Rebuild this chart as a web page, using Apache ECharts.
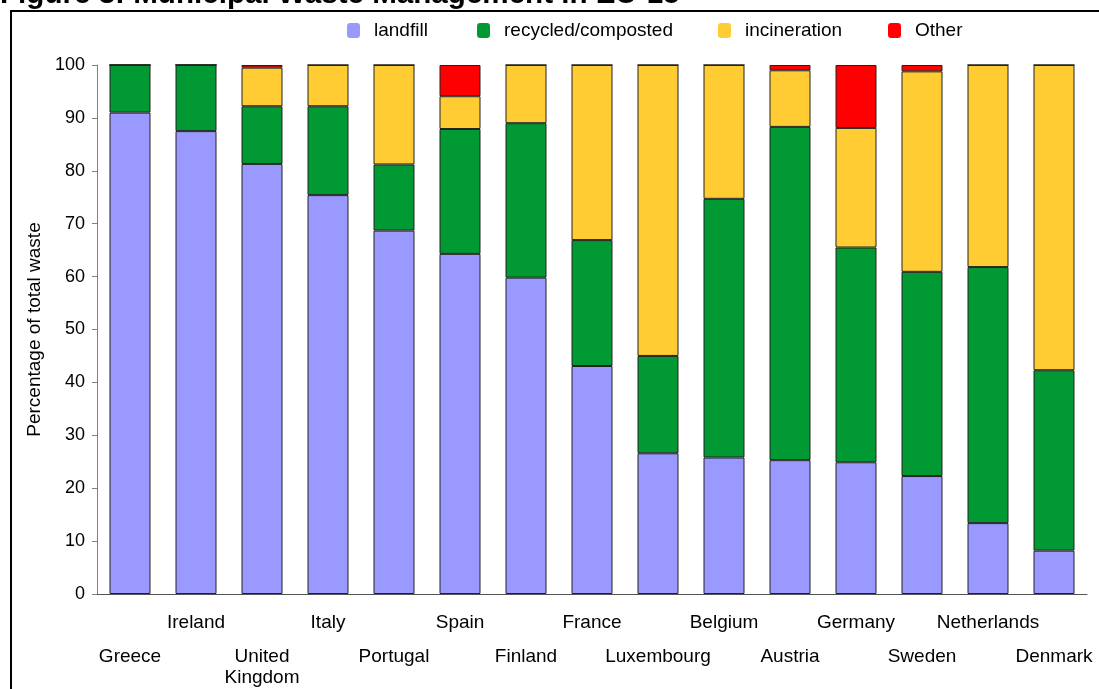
<!DOCTYPE html>
<html>
<head>
<meta charset="utf-8">
<script src="https://cdn.jsdelivr.net/npm/echarts@6/dist/echarts.min.js"></script>
<style>
html,body{margin:0;padding:0;background:#fff;}
#chart{width:1099px;height:689px;}
</style>
</head>
<body>
<div id="chart"></div>
<script>
const categories = ['Greece','Ireland','United\nKingdom','Italy','Portugal','Spain','Finland','France','Luxembourg','Belgium','Austria','Germany','Sweden','Netherlands','Denmark'];
const landfill     = [91.0, 87.5, 81.3, 75.4, 68.7, 64.3, 59.8, 43.1, 26.6, 25.8, 25.3, 24.9, 22.3, 13.4, 8.2];
const recycled     = [9.0, 12.5, 10.9, 16.8, 12.5, 23.6, 29.2, 23.8, 18.4, 48.9, 63.0, 40.6, 38.6, 48.4, 34.1];
const incineration = [0, 0, 7.3, 7.8, 18.8, 6.2, 11.0, 33.1, 55.0, 25.3, 10.7, 22.6, 37.9, 38.2, 57.7];
const other        = [0, 0, 0.5, 0, 0, 5.9, 0, 0, 0, 0, 1.0, 11.9, 1.2, 0, 0];
const yTicks = [0,10,20,30,40,50,60,70,80,90,100];
const titleText = 'Figure 3: Municipal Waste Management in EU-15';
const yName = 'Percentage of total waste';

const FONT = 'Liberation Sans, Arial, sans-serif';
const chart = echarts.init(document.getElementById('chart'), null, {renderer:'canvas'});

const barStyle = (c) => ({color: c, borderColor: '#222', borderWidth: 1});
function mkSeries(name, data, color){
  return {name, type:'bar', stack:'total', data, barWidth:41, itemStyle: barStyle(color), emphasis:{disabled:true}};
}
function legend(left, name){
  return {left, top:21, padding:0, data:[name], icon:'roundRect', itemWidth:13, itemHeight:15,
    itemStyle:{borderWidth:0}, textStyle:{fontFamily:FONT, fontSize:19, color:'#000', padding:[0,0,0,9]}};
}

chart.setOption({
  animation:false,
  backgroundColor:'#fff',
  graphic:[
    {type:'rect', shape:{x:11, y:11, width:1200, height:900}, style:{fill:null, stroke:'#000', lineWidth:2}, z:0},
    {type:'text', x:0, y:-5, style:{text:titleText, font:'bold 29.6px Liberation Sans, Arial, sans-serif', fill:'#000', verticalAlign:'middle'}, z:10}
  ],
  legend:[legend(347,'landfill'), legend(477,'recycled/composted'), legend(718,'incineration'), legend(888,'Other')],
  grid:{left:97, right:12, top:65, bottom:95, containLabel:false},
  xAxis:[
    {type:'category', data:categories, position:'bottom',
      axisLine:{lineStyle:{color:'#555', width:1}}, axisTick:{length:6, lineStyle:{color:'#555'}},
      axisLabel:{interval:0, margin:18, fontFamily:FONT, fontSize:19, color:'#000', lineHeight:21,
        formatter:(v,i)=> i%2===1 ? v : ''}},
    {type:'category', data:categories, position:'bottom', gridIndex:0,
      axisLine:{show:false}, axisTick:{show:false},
      axisLabel:{interval:0, margin:52, fontFamily:FONT, fontSize:19, color:'#000', lineHeight:21,
        formatter:(v,i)=> i%2===0 ? v : ''}}
  ],
  yAxis:{type:'value', min:0, max:100, interval:10,
    name:yName, nameLocation:'middle', nameRotate:90, nameGap:52,
    nameTextStyle:{fontFamily:FONT, fontSize:19, color:'#000'},
    axisLine:{show:true, lineStyle:{color:'#808080', width:1}},
    axisTick:{show:true, length:5, lineStyle:{color:'#808080'}},
    splitLine:{show:false},
    axisLabel:{margin:12, fontFamily:FONT, fontSize:18, color:'#000',
      formatter:(v)=> yTicks.includes(v) ? String(v) : ''}},
  series:[
    mkSeries('landfill', landfill, '#9999FF'),
    mkSeries('recycled/composted', recycled, '#009933'),
    mkSeries('incineration', incineration, '#FFCC33'),
    mkSeries('Other', other, '#FF0000')
  ]
});
</script>
</body>
</html>
